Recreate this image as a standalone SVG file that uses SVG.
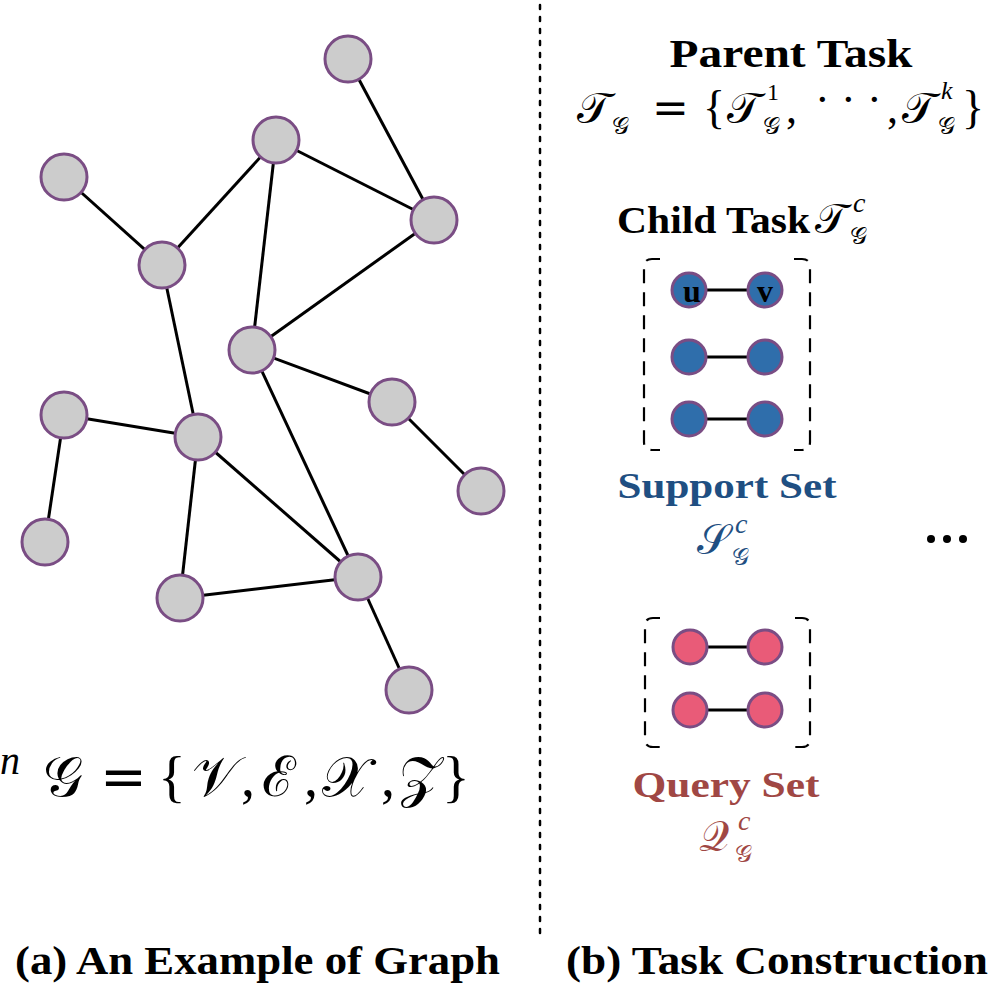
<svg xmlns="http://www.w3.org/2000/svg" width="995" height="984" viewBox="0 0 995 984">
<style>
.n{fill:#cccccc;stroke:#7a4d84;stroke-width:3}
.b{fill:#2f6eab;stroke:#7a4d84;stroke-width:3}
.p{fill:#e95b78;stroke:#7a4d84;stroke-width:3}
.e{stroke:#000;stroke-width:3;fill:none}
.br{stroke:#000;stroke-width:2.2;fill:none;stroke-dasharray:14,9}
.t{font-family:'Liberation Serif','Times New Roman',serif;font-weight:bold}
.m{font-family:'DejaVu Serif','Liberation Serif',serif}
.r{font-family:'Liberation Serif','DejaVu Serif',serif}
.mi{font-family:'Liberation Serif','DejaVu Serif',serif;font-style:italic}
</style>
<rect width="995" height="984" fill="#fff"/>
<line x1="540" y1="5" x2="540" y2="935" stroke="#000" stroke-width="2.5" stroke-dasharray="4,8" stroke-linecap="round"/>
<g id="edges">
<line class="e" x1="348" y1="59" x2="434" y2="220"/>
<line class="e" x1="276" y1="140" x2="162" y2="265"/>
<line class="e" x1="276" y1="140" x2="434" y2="220"/>
<line class="e" x1="276" y1="140" x2="252" y2="350"/>
<line class="e" x1="64" y1="177" x2="162" y2="265"/>
<line class="e" x1="162" y1="265" x2="198" y2="437"/>
<line class="e" x1="252" y1="350" x2="434" y2="220"/>
<line class="e" x1="252" y1="350" x2="392" y2="402"/>
<line class="e" x1="252" y1="350" x2="358" y2="577"/>
<line class="e" x1="392" y1="402" x2="481" y2="491"/>
<line class="e" x1="64" y1="415" x2="198" y2="437"/>
<line class="e" x1="64" y1="415" x2="45" y2="542"/>
<line class="e" x1="198" y1="437" x2="358" y2="577"/>
<line class="e" x1="198" y1="437" x2="180" y2="598"/>
<line class="e" x1="180" y1="598" x2="358" y2="577"/>
<line class="e" x1="358" y1="577" x2="409" y2="690"/>
<line class="e" x1="689" y1="290" x2="765" y2="290"/>
<line class="e" x1="689" y1="357" x2="765" y2="357"/>
<line class="e" x1="689" y1="419" x2="765" y2="419"/>
<line class="e" x1="690" y1="647" x2="765" y2="647"/>
<line class="e" x1="690" y1="710" x2="765" y2="710"/>
</g>
<g id="n1"><circle class="n" cx="348" cy="59" r="23"/></g>
<g id="n2"><circle class="n" cx="276" cy="140" r="23"/></g>
<g id="n3"><circle class="n" cx="64" cy="177" r="23"/></g>
<g id="n4"><circle class="n" cx="434" cy="220" r="23"/></g>
<g id="n5"><circle class="n" cx="162" cy="265" r="23"/></g>
<g id="n6"><circle class="n" cx="252" cy="350" r="23"/></g>
<g id="n7"><circle class="n" cx="64" cy="415" r="23"/></g>
<g id="n8"><circle class="n" cx="392" cy="402" r="23"/></g>
<g id="n9"><circle class="n" cx="198" cy="437" r="23"/></g>
<g id="n10"><circle class="n" cx="481" cy="491" r="23"/></g>
<g id="n11"><circle class="n" cx="45" cy="542" r="23"/></g>
<g id="n12"><circle class="n" cx="358" cy="577" r="23"/></g>
<g id="n13"><circle class="n" cx="180" cy="598" r="23"/></g>
<g id="n14"><circle class="n" cx="409" cy="690" r="23"/></g>
<g id="graph-formula">
<text class="mi" x="0" y="774" font-size="40">n</text>
<text class="m" font-size="56" x="43" y="796">𝒢</text>
<text class="m" font-size="56" x="100" y="796">=</text>
<text class="r" font-size="58" x="158" y="796">{</text>
<text class="m" font-size="56" x="192" y="796">𝒱</text>
<text class="r" font-size="56" x="241" y="796">,</text>
<text class="m" font-size="56" x="262" y="796">ℰ</text>
<text class="r" font-size="56" x="304" y="796">,</text>
<text class="m" font-size="56" x="322" y="796">𝒳</text>
<text class="r" font-size="56" x="381" y="796">,</text>
<text class="m" font-size="56" x="399" y="796">𝒵</text>
<text class="r" font-size="58" x="442" y="796">}</text>
</g>
<g id="parent-task">
<text class="t" x="791" y="67" font-size="40" text-anchor="middle" textLength="243" lengthAdjust="spacingAndGlyphs">Parent Task</text>
<text class="m" font-size="44" x="577" y="123">𝒯</text>
<text class="m" font-size="24" x="612" y="134">𝒢</text>
<text class="m" font-size="44" x="652" y="123">=</text>
<text class="r" font-size="46" x="703" y="123">{</text>
<text class="m" font-size="44" x="727" y="123">𝒯</text>
<text class="r" font-size="24" x="767" y="100">1</text>
<text class="m" font-size="24" x="763" y="134">𝒢</text>
<text class="r" font-size="44" x="786" y="123">,</text>
<text class="r" font-size="44" x="815 841 867" y="114">···</text>
<text class="r" font-size="44" x="887" y="123">,</text>
<text class="m" font-size="44" x="902" y="123">𝒯</text>
<text class="mi" font-size="26" x="941" y="99">k</text>
<text class="m" font-size="24" x="938" y="134">𝒢</text>
<text class="r" font-size="46" x="962" y="123">}</text>
</g>
<g id="child-task">
<text class="t" x="617" y="233" font-size="38" textLength="193" lengthAdjust="spacingAndGlyphs">Child Task</text>
<text class="m" font-size="42" x="815" y="233">𝒯</text>
<text class="m" font-size="24" x="850" y="244">𝒢</text>
<text class="mi" font-size="28" x="853" y="212">c</text>
</g>
<g id="support-set">
<path class="br" d="M660,259 H652 Q644,259 644,267 V442 Q644,450 652,450 H660"/>
<path class="br" d="M794,259 H802 Q810,259 810,267 V442 Q810,450 802,450 H794"/>
<circle class="b" cx="689" cy="290" r="17"/><circle class="b" cx="765" cy="290" r="17"/>
<circle class="b" cx="689" cy="357" r="17"/><circle class="b" cx="765" cy="357" r="17"/>
<circle class="b" cx="689" cy="419" r="17"/><circle class="b" cx="765" cy="419" r="17"/>
<text class="t" x="692" y="302" font-size="32" text-anchor="middle">u</text>
<text class="t" x="765" y="302" font-size="32" text-anchor="middle">v</text>
<text class="t" x="727" y="498" font-size="36" text-anchor="middle" fill="#1f4f82" textLength="219" lengthAdjust="spacingAndGlyphs">Support Set</text>
<text class="m" font-size="42" x="697" y="554" fill="#1f4f82">𝒮</text>
<text class="m" font-size="24" x="732" y="565" fill="#1f4f82">𝒢</text>
<text class="mi" font-size="28" x="735" y="533" fill="#1f4f82">c</text>
</g>
<g id="more">
<circle cx="931" cy="539" r="4" fill="#000"/><circle cx="947" cy="539" r="4" fill="#000"/><circle cx="963" cy="539" r="4" fill="#000"/>
</g>
<g id="query-set">
<path class="br" d="M660,618 H653 Q645,618 645,626 V739 Q645,747 653,747 H660"/>
<path class="br" d="M795,618 H802 Q810,618 810,626 V739 Q810,747 802,747 H795"/>
<circle class="p" cx="690" cy="647" r="17"/><circle class="p" cx="765" cy="647" r="17"/>
<circle class="p" cx="690" cy="710" r="17"/><circle class="p" cx="765" cy="710" r="17"/>
<text class="t" x="726" y="797" font-size="36" text-anchor="middle" fill="#a04744" textLength="187" lengthAdjust="spacingAndGlyphs">Query Set</text>
<text class="m" font-size="42" x="699" y="851" fill="#a04744">𝒬</text>
<text class="m" font-size="24" x="735" y="862" fill="#a04744">𝒢</text>
<text class="mi" font-size="28" x="738" y="830" fill="#a04744">c</text>
</g>
<g id="captions">
<text class="t" x="15" y="974" font-size="40" textLength="485" lengthAdjust="spacingAndGlyphs">(a) An Example of Graph</text>
<text class="t" x="566" y="974" font-size="40" textLength="422" lengthAdjust="spacingAndGlyphs">(b) Task Construction</text>
</g>
</svg>
